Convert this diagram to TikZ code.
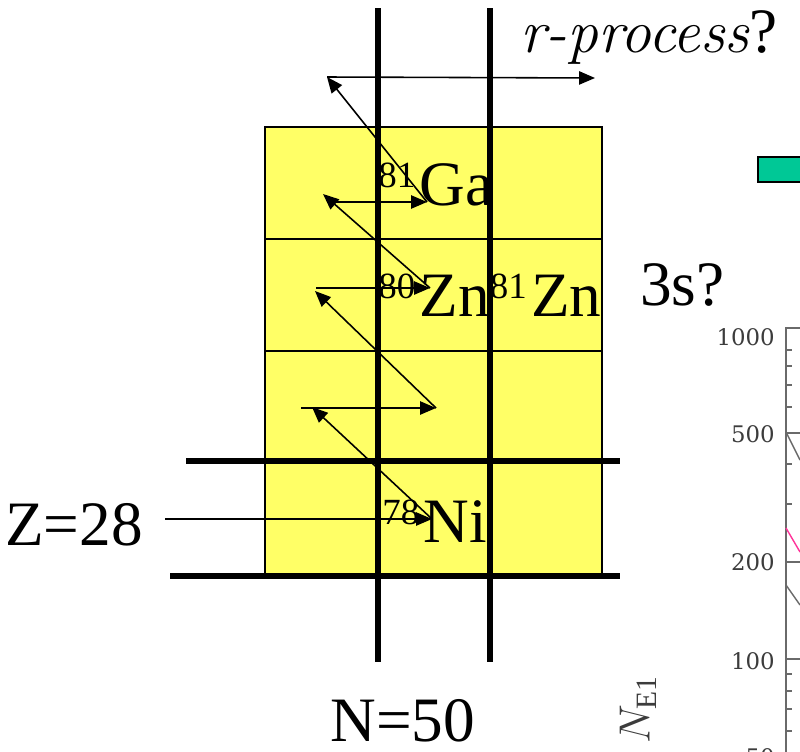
\documentclass[tikz,border=0pt]{standalone}
\usepackage{fontspec}
\setmainfont{Liberation Serif}
\newfontfamily\axisfont{DejaVu Serif}
\newfontfamily\slantfont{Latin Modern Roman}
\usepackage{xcolor}
\usepackage{tikz}
\usetikzlibrary{arrows.meta,positioning,calc}
\definecolor{nzyellow}{HTML}{FFFF66}
\definecolor{nzgreen}{HTML}{00C896}
\definecolor{nzaxis}{HTML}{6A6A6A}
\definecolor{nzlabel}{HTML}{3C3C3C}
\definecolor{nzpink}{HTML}{FF3399}
\newcommand{\nuc}[1]{\raisebox{0.27em}{\fontsize{21}{21}\selectfont #1}\kern2.5pt}
\tikzset{
  cell/.style={draw=black,line width=0.8pt,fill=nzyellow},
  magic/.style={line width=3pt,draw=black},
  hop/.style={-{Triangle[length=9pt,width=7.5pt]},line width=0.9pt,draw=black},
  iso/.style={anchor=base west,inner sep=0pt,text depth=0pt,font=\fontsize{36}{40}\selectfont},
  axline/.style={draw=nzaxis,line width=0.8pt},
  axlab/.style={anchor=east,inner sep=0pt,text=nzlabel,font=\axisfont\fontsize{13}{14}\selectfont},
}

\begin{document}
\begin{tikzpicture}[x=0.02cm,y=-0.02cm]
\useasboundingbox (0,0) rectangle (800,751);
\clip (0,0) rectangle (800,751);
\foreach \c in {0,1,2}
  \foreach \r in {0,1,2,3}
    \draw[cell] (265+\c*112.3,127+\r*112) rectangle ++(112.3,112);
\draw[magic] (378,8) -- (378,662);
\draw[magic] (490,8) -- (490,662);
\draw[magic] (186,461) -- (620,461);
\draw[magic] (170,576) -- (620,576);

\node[iso] (ga) at (378,205) {\nuc{81}Ga};
\node[iso] (zn) at (378,316) {\nuc{80}Zn\nuc{81}Zn};
\node[iso] (ni) at (382,542) {\nuc{78}Ni};
\node[iso] (zlab) at (5,545) {Z=28};
\node[iso] (nlab) at (330,741) {N=50};
\node[iso] (shell) at (640,305) {3s?};
\node[iso] (rproc) at (520,52) {{\slantfont\itshape\fontsize{35}{38}\selectfont r-process}?};

\coordinate (z0) at (165,519);
\coordinate (a1) at (432,519);
\coordinate (b1) at (312,407);
\coordinate (b0) at (301,408);
\coordinate (a2) at (436,408);
\coordinate (c1) at (315,291);
\coordinate (c0) at (316,288);
\coordinate (a3) at (430,288);
\coordinate (d1) at (323,194);
\coordinate (d0) at (328,202);
\coordinate (a4) at (427,202);
\coordinate (e1) at (327,77);
\coordinate (a5) at (595,78);
\draw[hop] (z0) -- (a1);
\draw[hop] (a1) -- (b1);
\draw[hop] (b0) -- (a2);
\draw[hop] (a2) -- (c1);
\draw[hop] (c0) -- (a3);
\draw[hop] (a3) -- (d1);
\draw[hop] (d0) -- (a4);
\draw[hop] (a4) -- (e1);
\draw[hop] (e1) -- (a5);

\draw[line width=1.6pt,fill=nzgreen] (758,157) rectangle (810,182);

% cut-off E1 plot
\draw[axline] (800,328) -- (786,328) -- (786,760);
\foreach \y in {433,562,659}
  \draw[axline] (786,\y) -- (800,\y);
\foreach \y in {350,366,385,407,464,504,674,691,709,731}
  \draw[axline] (786,\y) -- (792,\y);
\foreach \v/\y in {1000/337,500/434,200/562,100/661,50/757}
  \node[axlab] (tick\v) at (775,\y) {\v};
\draw[axline] (786,432) -- (800,460);
\draw[nzpink,line width=0.8pt] (786,528) -- (800,552);
\draw[axline] (786,585) -- (800,605);
\node[rotate=90,inner sep=0pt,text=nzlabel,font=\fontsize{24}{26}\selectfont] (ne1) at (638,710) {$N_{\mathrm{E1}}$};
\end{tikzpicture}
\end{document}
